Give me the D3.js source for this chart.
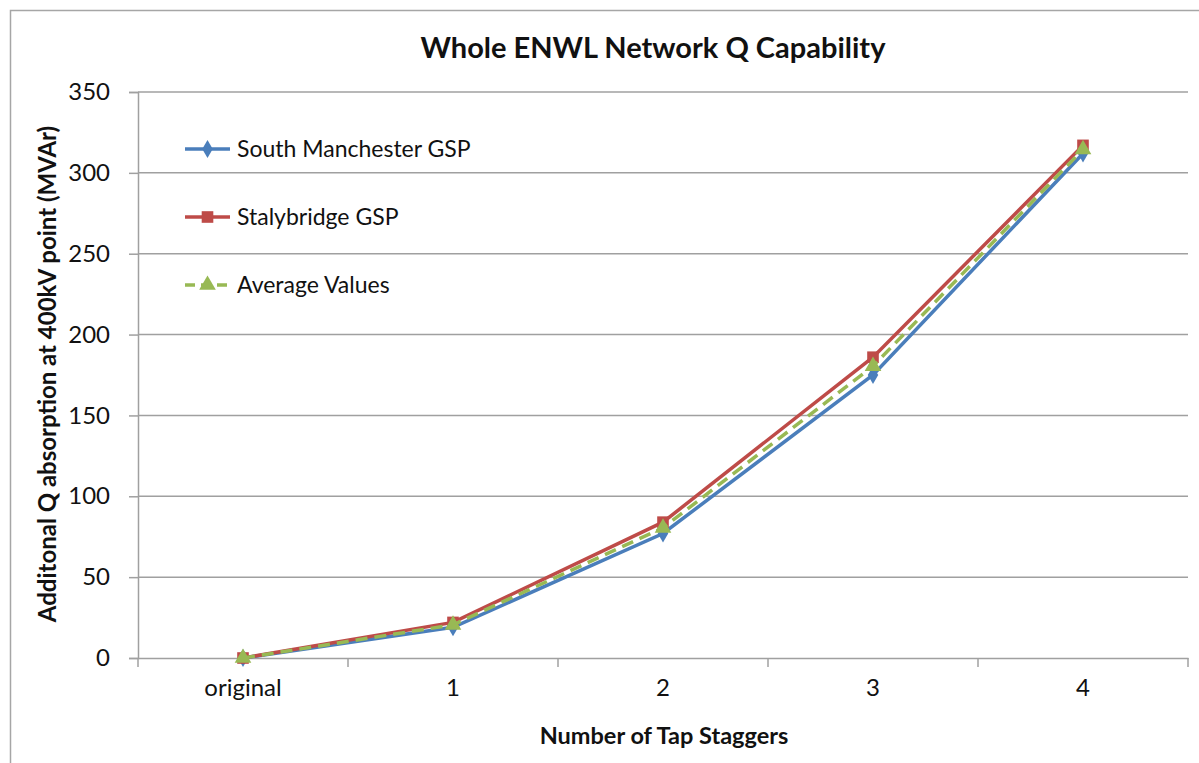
<!DOCTYPE html>
<html>
<head>
<meta charset="utf-8">
<script src="https://cdn.jsdelivr.net/npm/d3@7"></script>
<style>
  body { margin: 0; background: #fff; }
  svg { font-family: Lato, "Open Sans", sans-serif; }
</style>
</head>
<body>
<div id="chart"></div>
<script>
var categories = ["original", "1", "2", "3", "4"];
var southManchester = [0, 19, 77, 175, 312];
var stalybridge = [0, 22, 84, 186, 317];
var averageValues = [0, 20.5, 80.5, 180.5, 314.5];
var yTicks = [0, 50, 100, 150, 200, 250, 300, 350];

var width = 1199, height = 763;
var plotLeft = 138, plotRight = 1188, plotTop = 92, plotBottom = 658;

var svg = d3.select("#chart").append("svg")
    .attr("width", width).attr("height", height);

// chart border
svg.append("rect")
  .attr("x", 10.5).attr("y", 10.5)
  .attr("width", 1220).attr("height", 800)
  .attr("fill", "none").attr("stroke", "#a6a6a6").attr("stroke-width", 1.5);

var x = d3.scaleBand().domain(categories).range([plotLeft, plotRight]);
var y = d3.scaleLinear().domain([0, 350]).range([plotBottom, plotTop]);

// gridlines
svg.append("g").selectAll("line")
  .data(yTicks.slice(1))
  .enter().append("line")
  .attr("x1", plotLeft).attr("x2", plotRight)
  .attr("y1", function(d){ return y(d); })
  .attr("y2", function(d){ return y(d); })
  .attr("stroke", "#a0a0a0").attr("stroke-width", 1.5);

// y axis
var yAxis = svg.append("g")
  .attr("transform", "translate(" + plotLeft + ",0)")
  .call(d3.axisLeft(y).tickValues(yTicks).tickSize(9).tickPadding(19));
yAxis.select(".domain").attr("stroke", "#a0a0a0").attr("stroke-width", 1.5);
yAxis.selectAll(".tick line").attr("stroke", "#a0a0a0").attr("stroke-width", 1.5);
yAxis.selectAll("text").attr("font-size", "24px").attr("fill", "#111")
  .attr("font-family", "Lato, sans-serif");

// x axis
var xAxis = svg.append("g")
  .attr("transform", "translate(0," + plotBottom + ")")
  .call(d3.axisBottom(x).tickSize(0).tickPadding(21));
xAxis.select(".domain").attr("stroke", "#a0a0a0").attr("stroke-width", 1.5);
xAxis.selectAll("text").attr("font-size", "24px").attr("fill", "#111")
  .attr("font-family", "Lato, sans-serif");

// x tick marks between categories
var bounds = categories.map(function(c){ return x(c); }).concat([plotRight]);
svg.append("g").selectAll("line")
  .data(bounds)
  .enter().append("line")
  .attr("x1", function(d){ return d; }).attr("x2", function(d){ return d; })
  .attr("y1", plotBottom).attr("y2", plotBottom + 9)
  .attr("stroke", "#a0a0a0").attr("stroke-width", 1.5);

var series = [
  { name: "South Manchester GSP", values: southManchester, color: "#4a7ebb", dash: null, symbol: d3.symbolDiamond, size: 95 },
  { name: "Stalybridge GSP", values: stalybridge, color: "#be4b48", dash: null, symbol: d3.symbolSquare, size: 135 },
  { name: "Average Values", values: averageValues, color: "#98b954", dash: "12,7", symbol: d3.symbolTriangle, size: 120 }
];

var line = d3.line()
  .x(function(d, i){ return x(categories[i]) + x.bandwidth() / 2; })
  .y(function(d){ return y(d); });

series.forEach(function(s){
  svg.append("path")
    .datum(s.values)
    .attr("d", line)
    .attr("fill", "none")
    .attr("stroke", s.color)
    .attr("stroke-width", 3.5)
    .attr("stroke-dasharray", s.dash);
  svg.append("g").selectAll("path")
    .data(s.values)
    .enter().append("path")
    .attr("transform", function(d, i){
      return "translate(" + (x(categories[i]) + x.bandwidth() / 2) + "," + y(d) + ")";
    })
    .attr("d", d3.symbol().type(s.symbol).size(s.size))
    .attr("fill", s.color);
});

// legend
var legend = svg.append("g").selectAll("g")
  .data(series)
  .enter().append("g")
  .attr("transform", function(d, i){ return "translate(185," + (149 + i * 68) + ")"; });
legend.append("line")
  .attr("x1", 0).attr("x2", 45).attr("y1", 0).attr("y2", 0)
  .attr("stroke", function(d){ return d.color; })
  .attr("stroke-width", 3.5)
  .attr("stroke-dasharray", function(d){ return d.dash ? "10,6" : null; });
legend.append("path")
  .attr("transform", "translate(22.5,0)")
  .attr("d", function(d){ return d3.symbol().type(d.symbol).size(d.size)(); })
  .attr("fill", function(d){ return d.color; });
legend.append("text")
  .attr("x", 52).attr("y", 8)
  .attr("font-size", "23px").attr("fill", "#111")
  .text(function(d){ return d.name; });

// titles
svg.append("text")
  .attr("x", 653).attr("y", 58)
  .attr("text-anchor", "middle")
  .attr("font-size", "29px").attr("font-weight", "bold").attr("fill", "#111")
  .text("Whole ENWL Network Q Capability");

svg.append("text")
  .attr("x", 664).attr("y", 744)
  .attr("text-anchor", "middle")
  .attr("font-size", "23.5px").attr("font-weight", "bold").attr("fill", "#111")
  .text("Number of Tap Staggers");

svg.append("text")
  .attr("transform", "translate(56,374) rotate(-90)")
  .attr("text-anchor", "middle")
  .attr("font-size", "24px").attr("font-weight", "bold").attr("fill", "#111")
  .text("Additonal Q absorption at 400kV point (MVAr)");
</script>
</body>
</html>
